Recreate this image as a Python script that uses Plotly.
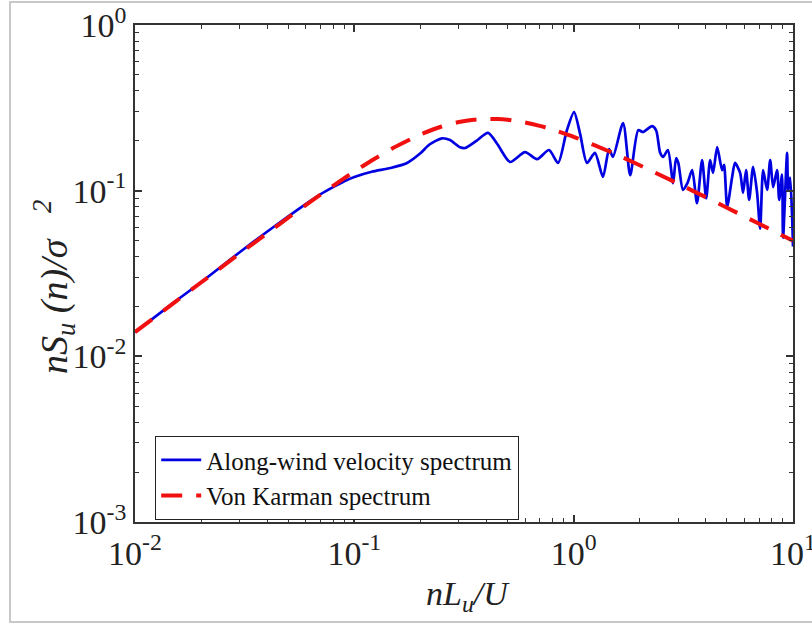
import plotly.graph_objects as go

# Along-wind velocity spectrum
f_meas = [0.01, 0.015, 0.02, 0.03, 0.04, 0.05, 0.06, 0.07, 0.08, 0.09, 0.1, 0.12, 0.146, 0.174, 0.2, 0.22,
          0.251, 0.273, 0.303, 0.32, 0.36, 0.407, 0.45, 0.513, 0.6, 0.681, 0.772, 0.849, 0.93, 1.004, 1.07,
          1.15, 1.25, 1.36, 1.45, 1.51, 1.68, 1.81, 1.97, 2.07, 2.28, 2.38, 2.48, 2.56, 2.69, 2.84, 2.93,
          3.0, 3.15, 3.3, 3.47, 3.65, 3.85, 4.02, 4.19, 4.32, 4.51, 4.75, 4.85, 5.01, 5.28, 5.44, 5.74,
          5.92, 6.11, 6.31, 6.58, 6.86, 7.08, 7.31, 7.62, 7.87, 8.12, 8.46, 8.65, 8.91, 9.01, 9.40, 9.50,
          9.70, 9.91, 10.0]
s_meas = [0.014, 0.0211, 0.028, 0.0425, 0.0565, 0.070, 0.083, 0.095, 0.105, 0.114, 0.121, 0.130, 0.137,
          0.147, 0.168, 0.19, 0.207, 0.202, 0.183, 0.181, 0.20, 0.223, 0.19, 0.149, 0.171, 0.155, 0.176,
          0.147, 0.23, 0.298, 0.22, 0.147, 0.169, 0.121, 0.178, 0.160, 0.256, 0.124, 0.232, 0.226, 0.245,
          0.23, 0.169, 0.160, 0.176, 0.111, 0.157, 0.147, 0.101, 0.111, 0.133, 0.084, 0.153, 0.090, 0.153,
          0.128, 0.183, 0.133, 0.143, 0.080, 0.121, 0.147, 0.128, 0.097, 0.133, 0.088, 0.139, 0.097, 0.059,
          0.133, 0.101, 0.153, 0.105, 0.133, 0.088, 0.125, 0.052, 0.169, 0.101, 0.120, 0.069, 0.046]

# Von Karman spectrum
f_vk = [0.01, 0.015, 0.02, 0.03, 0.04, 0.05, 0.06, 0.08, 0.1, 0.12, 0.15, 0.2, 0.25, 0.3, 0.35, 0.4,
        0.45, 0.5, 0.6, 0.7, 0.8, 1.0, 1.5, 2.0, 3.0, 4.0, 5.0, 6.0, 8.0, 10.0]
s_vk = [0.0140, 0.02095, 0.0279, 0.0417, 0.0553, 0.0687, 0.0818, 0.1070, 0.1305, 0.1522, 0.1809, 0.2183,
        0.2439, 0.2596, 0.2680, 0.2711, 0.2707, 0.2678, 0.2581, 0.2462, 0.2340, 0.2114, 0.1695, 0.1424,
        0.1101, 0.0914, 0.0789, 0.0699, 0.0578, 0.0498]

x_ticks = [0.01, 0.1, 1, 10]
x_ticktext = ["10<sup>-2</sup>", "10<sup>-1</sup>", "10<sup>0</sup>", "10<sup>1</sup>"]
y_ticks = [0.001, 0.01, 0.1, 1]
y_ticktext = ["10<sup>-3</sup>", "10<sup>-2</sup>", "10<sup>-1</sup>", "10<sup>0</sup>"]

def minors(lo, hi):
    out = []
    d = lo
    while d < hi:
        for m in range(2, 10):
            out.append(m * d)
        d *= 10
    return out

FONT = "Times New Roman, Liberation Serif, serif"

fig = go.Figure()
fig.add_trace(go.Scatter(x=f_meas, y=s_meas, mode="lines", name="Along-wind velocity spectrum",
                         line=dict(color="#0000e0", width=2.7, shape="spline", smoothing=0.7)))
fig.add_trace(go.Scatter(x=f_vk, y=s_vk, mode="lines", name="Von Karman spectrum",
                         line=dict(color="#f01010", width=4, dash="21px,14px", shape="spline", smoothing=0.5)))

W, H = 812, 626
L, R, T, B = 135, 19, 25, 104
pw, ph = W - L - R, H - T - B

def px(xp):
    return (xp - L) / pw

def py(yp):
    return (H - B - yp) / ph

axis_common = dict(type="log", showgrid=False, zeroline=False, showline=True, linecolor="#333333",
                   linewidth=1.5, mirror="ticks", ticks="inside", ticklen=7, tickcolor="#333333",
                   tickwidth=1.5, automargin=False, ticklabeloverflow="allow",
                   tickfont=dict(family=FONT, size=34, color="#222222"))

fig.update_layout(
    width=W, height=H, margin=dict(l=L, r=R, t=T, b=B, autoexpand=False),
    font=dict(family=FONT, size=22, color="#222222"),
    paper_bgcolor="white", plot_bgcolor="white",
    xaxis=dict(range=[-2, 1], tickvals=x_ticks, ticktext=x_ticktext,
               minor=dict(tickvals=minors(0.01, 10), ticks="inside", ticklen=4, tickcolor="#333333", tickwidth=1.2),
               **axis_common),
    yaxis=dict(range=[-3, 0], tickvals=y_ticks, ticktext=y_ticktext,
               minor=dict(tickvals=minors(0.001, 1), ticks="inside", ticklen=4, tickcolor="#333333", tickwidth=1.2),
               **axis_common),
    showlegend=True,
    legend=dict(x=px(155), y=py(436), xanchor="left", yanchor="top", bgcolor="white",
                bordercolor="#222222", borderwidth=1.2, font=dict(family=FONT, size=25, color="#111111"),
                tracegroupgap=0, itemwidth=40),
    annotations=[
        dict(text="<i>nS<sub>u</sub> (n)/σ<sup>    2</sup></i>", xref="paper", yref="paper", x=px(54), y=py(287),
             textangle=-90, showarrow=False, font=dict(family=FONT, size=38, color="#222222"),
             xanchor="center", yanchor="middle"),
        dict(text="<i>nL<sub>u</sub>/U</i>", xref="paper", yref="paper", x=px(468), y=py(596),
             showarrow=False, font=dict(family=FONT, size=34, color="#222222"),
             xanchor="center", yanchor="middle"),
    ],
    shapes=[dict(type="rect", xref="paper", yref="paper", x0=px(10), x1=px(830), y0=py(622), y1=py(2),
                 line=dict(color="#c8c8c8", width=2), layer="below")],
)

fig.write_html("out.html")
